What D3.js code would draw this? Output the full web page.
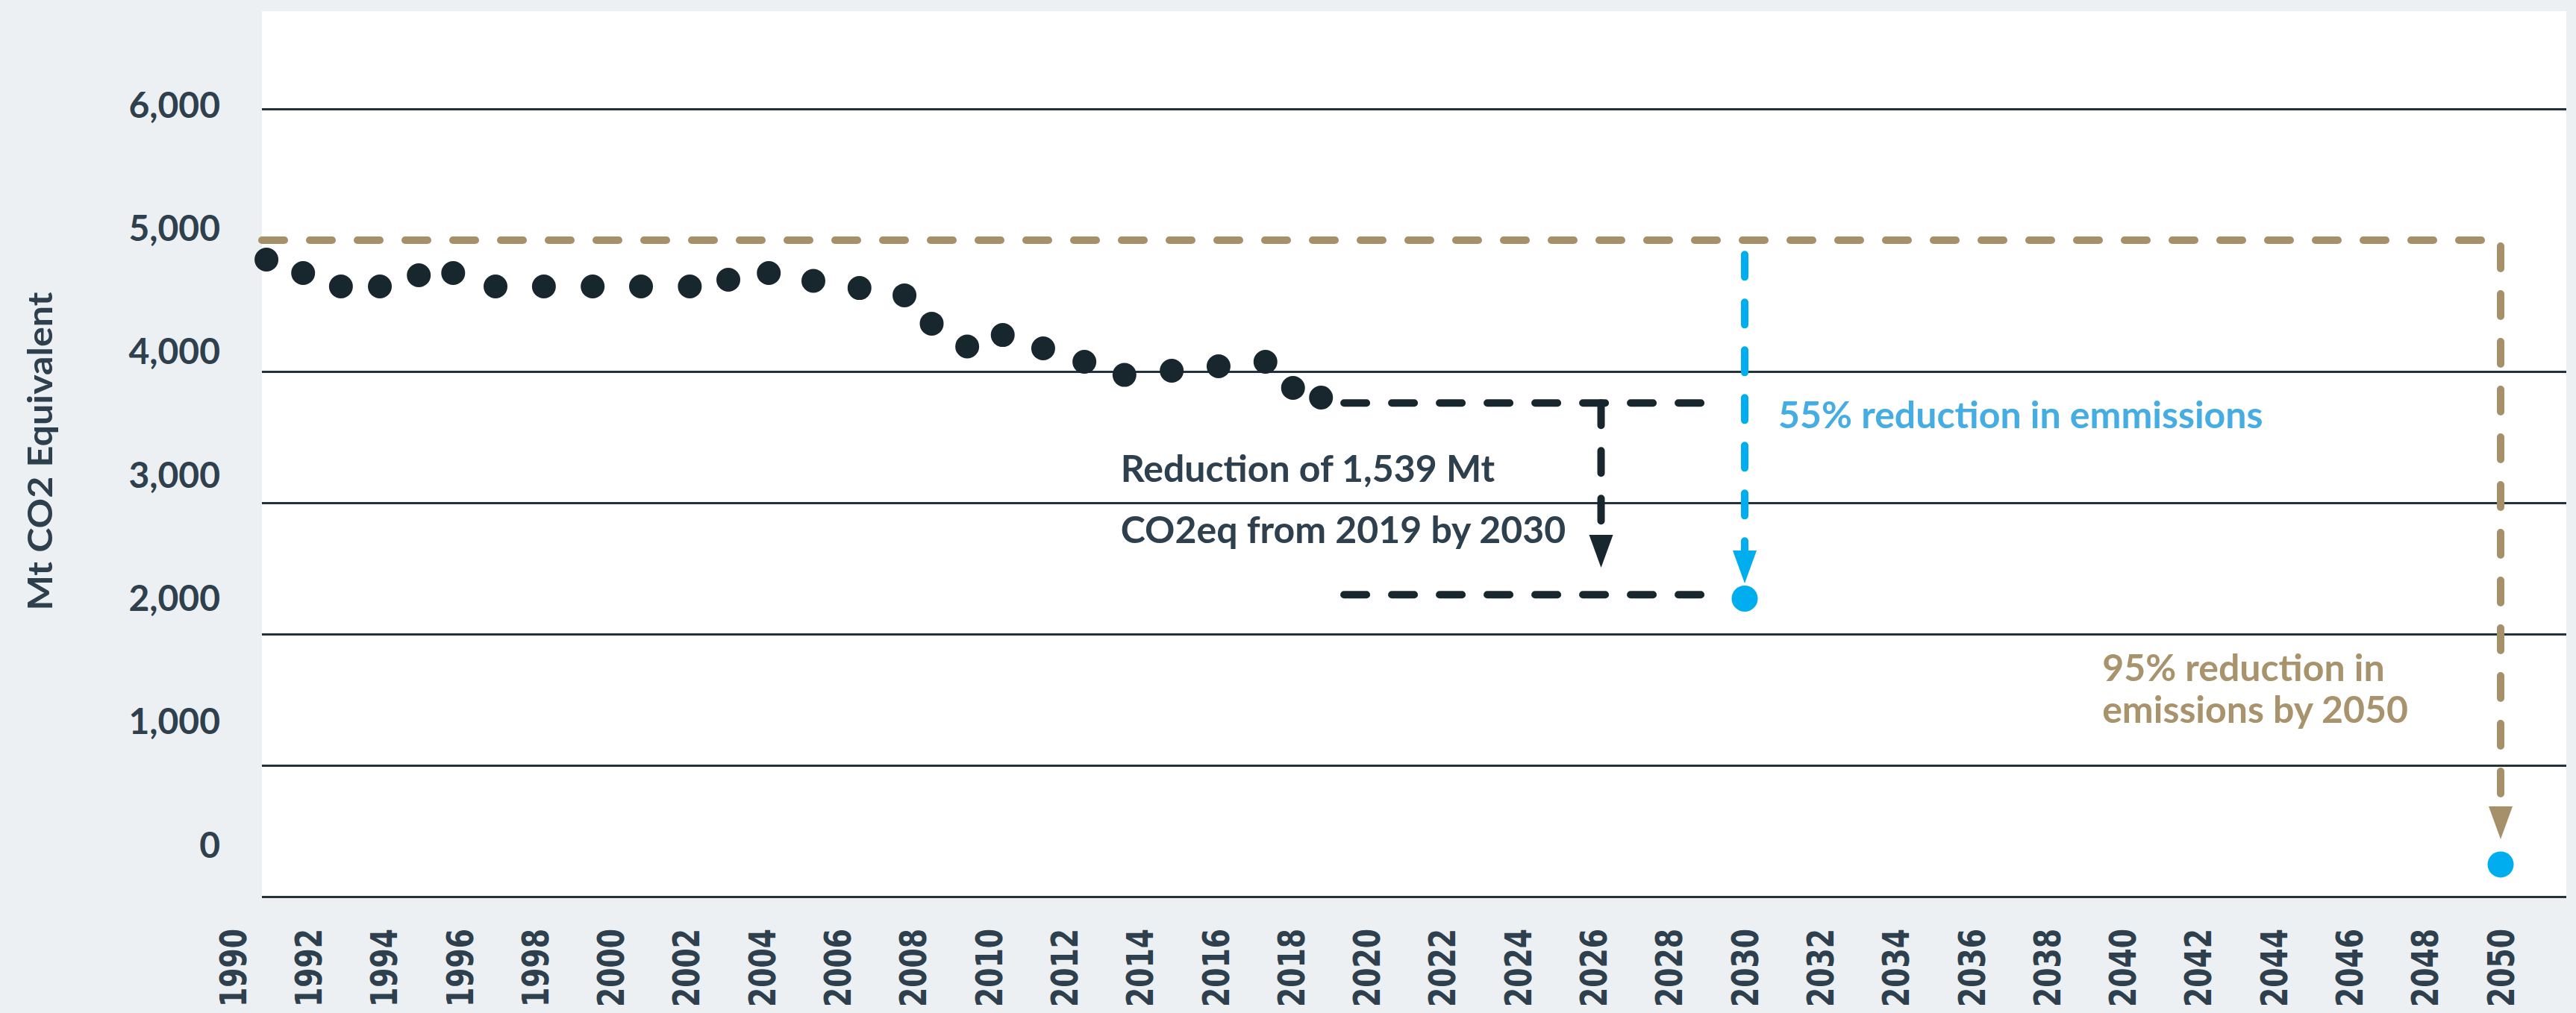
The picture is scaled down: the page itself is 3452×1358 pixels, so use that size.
<!DOCTYPE html>
<html>
<head>
<meta charset="utf-8">
<script src="https://cdn.jsdelivr.net/npm/d3@7"></script>
<style>
  body { margin: 0; background: #edf0f3; }
  svg { display: block; }
</style>
</head>
<body>
<div id="chart"></div>
<script>
// emissions (years are where the dots sit)
const years = [1990.89, 1991.86, 1992.86, 1993.89, 1994.92, 1995.83, 1996.95, 1998.23, 1999.52,
  2000.80, 2002.09, 2003.11, 2004.18, 2005.36, 2006.58, 2007.77, 2008.49, 2009.43, 2010.37,
  2011.44, 2012.53, 2013.59, 2014.84, 2016.08, 2017.32, 2018.05, 2018.79];
const emissions = [4852, 4750, 4648, 4648, 4733, 4750, 4648, 4648, 4648,
  4648, 4648, 4699, 4750, 4690, 4636, 4580, 4364, 4190, 4278,
  4176, 4074, 3974, 4006, 4040, 4074, 3875, 3801];

// targets
const targetYears = [2030, 2050];
const targetValues = [2270, 245];

// dashed guide lines [year, value]
const baselinePath = [[1990.77, 5000], [2050, 5000], [2050, 437]];
const target2030Path = [[2030, 4890], [2030, 2386]];
const level2019Path = [[2019.4, 3760], [2029.4, 3760]];
const level2030Path = [[2019.4, 2300], [2029.4, 2300]];
const dropPath = [[2026.2, 3760], [2026.2, 2506]];

// ticks
const yTicks = [0, 1000, 2000, 3000, 4000, 5000, 6000];
const gridValues = [6000, 4000, 3000, 2000, 1000, 0];
const xTicks = [1990, 1992, 1994, 1996, 1998, 2000, 2002, 2004, 2006, 2008, 2010,
  2012, 2014, 2016, 2018, 2020, 2022, 2024, 2026, 2028, 2030,
  2032, 2034, 2036, 2038, 2040, 2042, 2044, 2046, 2048, 2050];

// annotations: [text, year, value]
const blackNotes = [["Reduction of 1,539 Mt", 2013.49, 3159], ["CO2eq from 2019 by 2030", 2013.49, 2693]];
const blueNotes = [["55% reduction in emmissions", 2030.89, 3568]];
const tanNotes = [["95% reduction in", 2039.46, 1642], ["emissions by 2050", 2039.46, 1324]];

const width = 3452, height = 1358;
const plot = {left: 351, right: 3439, top: 15, bottom: 1202};

const colDark = "#18262e", colText = "#2e404d", colTan = "#a69069",
      colBlue = "#00aeef", colBlueText = "#45ade2", colTanText = "#a8936d";
const font = "Lato, 'Noto Sans', sans-serif";

const svg = d3.select("#chart").append("svg")
    .attr("width", width)
    .attr("height", height);

// schalen
const x = d3.scaleLinear().domain([1990, 2050]).range([312, 3351]);
const y = d3.scaleLinear().domain([0, 6000]).range([plot.bottom, 146]);
const yLabel = d3.scaleLinear().domain([0, 6000]).range([1132, 140]);

// white plot area
svg.append("rect")
    .attr("x", plot.left).attr("y", plot.top)
    .attr("width", plot.right - plot.left)
    .attr("height", plot.bottom - plot.top)
    .attr("fill", "#ffffff");

// gridlines
svg.append("g")
    .attr("transform", "translate(" + plot.left + ",0)")
    .call(d3.axisLeft(y).tickValues(gridValues).tickSize(-(plot.right - plot.left)).tickFormat(""))
    .call(g => g.select(".domain").remove())
    .call(g => g.selectAll("line").attr("stroke", "#24323c").attr("stroke-width", 3));

// y labels
svg.append("g")
    .attr("transform", "translate(295,0)")
    .call(d3.axisLeft(yLabel).tickValues(yTicks).tickSize(0).tickPadding(0).tickFormat(d3.format(",")))
    .call(g => g.select(".domain").remove())
    .call(g => g.selectAll("text")
        .attr("dy", "0.36em")
        .attr("fill", colText)
        .style("font-family", font)
        .style("font-weight", "700")
        .style("font-size", "48px"));

// y title
svg.append("text")
    .attr("transform", "translate(70,605) rotate(-90)")
    .attr("text-anchor", "middle")
    .attr("textLength", 427)
    .attr("lengthAdjust", "spacingAndGlyphs")
    .attr("fill", colText)
    .style("font-family", font)
    .style("font-weight", "700")
    .style("font-size", "46px")
    .text("Mt CO2 Equivalent");

// x labels, rotated
svg.append("g").selectAll("text")
  .data(xTicks)
  .join("text")
    .attr("transform", d => "translate(" + x(d) + ",1350) rotate(-90)")
    .attr("dy", "0.36em")
    .attr("textLength", 105)
    .attr("lengthAdjust", "spacingAndGlyphs")
    .attr("fill", colText)
    .style("font-family", "'DejaVu Sans', sans-serif")
    .style("font-weight", "700")
    .style("font-size", "49px")
    .text(d => d);

// dashed line with optional arrow head at the end
const arrowLen = 44, arrowHalf = 16;
function dashed(points, color, arrow) {
  const px = points.map(p => [x(p[0]), y(p[1])]);
  if (arrow) {
    const n = px.length;
    const [x1, y1] = px[n - 2], [x2, y2] = px[n - 1];
    const len = Math.hypot(x2 - x1, y2 - y1);
    const ux = (x2 - x1) / len, uy = (y2 - y1) / len;
    const bx = x2 - ux * arrowLen, by = y2 - uy * arrowLen;
    px[n - 1] = [bx, by];
    svg.append("path")
        .attr("d", d3.line()([[x2, y2], [bx - uy * arrowHalf, by + ux * arrowHalf], [bx + uy * arrowHalf, by - ux * arrowHalf]]) + "Z")
        .attr("fill", color);
  }
  svg.append("path")
      .attr("d", d3.line()(px))
      .attr("fill", "none")
      .attr("stroke", color)
      .attr("stroke-width", 10)
      .attr("stroke-linecap", "round")
      .attr("stroke-dasharray", "30 34");
}

dashed(baselinePath, colTan, true);
dashed(target2030Path, colBlue, true);
dashed(level2019Path, colDark, false);
dashed(level2030Path, colDark, false);
dashed(dropPath, colDark, true);

// historic emissions
svg.append("g").selectAll("circle")
  .data(years)
  .join("circle")
    .attr("cx", d => x(d))
    .attr("cy", (d, i) => y(emissions[i]))
    .attr("r", 16)
    .attr("fill", colDark);

// targets
svg.append("g").selectAll("circle")
  .data(targetYears)
  .join("circle")
    .attr("cx", d => x(d))
    .attr("cy", (d, i) => y(targetValues[i]))
    .attr("r", 17.5)
    .attr("fill", colBlue);

// annotations
function notes(list, color) {
  svg.append("g").selectAll("text")
    .data(list)
    .join("text")
      .attr("x", d => x(d[1]))
      .attr("y", d => y(d[2]))
      .attr("fill", color)
      .style("font-family", font)
      .style("font-weight", "700")
      .style("font-size", "50px")
      .text(d => d[0]);
}
notes(blackNotes, colText);
notes(blueNotes, colBlueText);
notes(tanNotes, colTanText);
</script>
</body>
</html>
